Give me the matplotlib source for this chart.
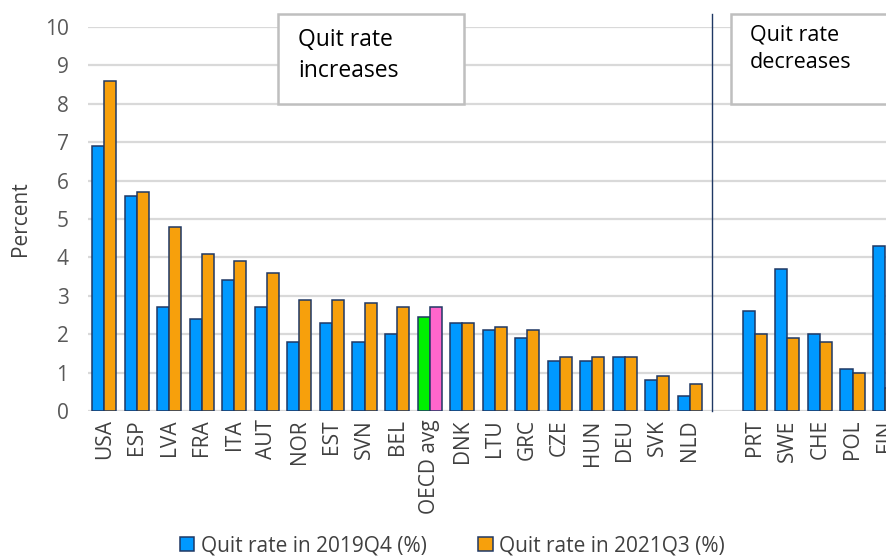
import matplotlib
matplotlib.use("Agg")
import matplotlib.pyplot as plt
from matplotlib.patches import Rectangle
import numpy as np

plt.rcParams['font.family'] = ['Open Sans', 'DejaVu Sans']

countries = ["USA", "ESP", "LVA", "FRA", "ITA", "AUT", "NOR", "EST", "SVN", "BEL",
             "OECD avg", "DNK", "LTU", "GRC", "CZE", "HUN", "DEU", "SVK", "NLD",
             "PRT", "SWE", "CHE", "POL", "FIN"]
q2019 = [6.9, 5.6, 2.7, 2.4, 3.4, 2.7, 1.8, 2.3, 1.8, 2.0,
         2.45, 2.3, 2.1, 1.9, 1.3, 1.3, 1.4, 0.8, 0.4,
         2.6, 3.7, 2.0, 1.1, 4.3]
q2021 = [8.6, 5.7, 4.8, 4.1, 3.9, 3.6, 2.9, 2.9, 2.8, 2.7,
         2.7, 2.3, 2.2, 2.1, 1.4, 1.4, 1.4, 0.9, 0.7,
         2.0, 1.9, 1.8, 1.0, 0.6]
n_increase = 19  # first group: quit rate increases
yticks = list(range(0, 11))

blue = "#0099FF"
orange = "#F7A00C"
green = "#00F000"
pink = "#FF66CC"
edge = "#1F3864"

fig = plt.figure(figsize=(8.87, 5.58), dpi=100)
ax = fig.add_axes([88/887, 147/558, 1 - 88/887, 384/558])

idx = np.arange(len(countries))
pos = idx + (idx >= n_increase)  # one empty slot between groups
w = 0.37
c1 = [green if c == "OECD avg" else blue for c in countries]
c2 = [pink if c == "OECD avg" else orange for c in countries]
ax.bar(pos - w, q2019, width=w, align='edge', color=c1, edgecolor=edge,
       linewidth=1.1, zorder=3, label="Quit rate in 2019Q4 (%)")
ax.bar(pos, q2021, width=w, align='edge', color=c2, edgecolor=edge,
       linewidth=1.1, zorder=3, label="Quit rate in 2021Q3 (%)")

ax.set_xlim(-0.5, pos[-1] + 0.06)
ax.set_ylim(0, 10)
ax.set_yticks(yticks)
ax.set_xticks(pos)
ax.set_xticklabels(countries, rotation=90, fontsize=15, color="#404040")
ax.tick_params(axis='y', labelsize=15, labelcolor="#595959", length=0, pad=14)
ax.tick_params(axis='x', length=0, pad=6)
ax.grid(axis='y', color="#D9D9D9", linewidth=1.6, zorder=0)
for s in ax.spines.values():
    s.set_visible(False)
ax.set_ylabel("Percent", fontsize=15, color="#404040", labelpad=10)

# divider line
xdiv = n_increase - 1 + 0.68
ax.plot([xdiv, xdiv], [0, 10.35], color=edge, linewidth=1.0, clip_on=False, zorder=4)

# annotation boxes (axes-data coordinates)
def box(x0, x1, y0, y1, text, tx, ty, fs):
    r = Rectangle((x0, y0), x1 - x0, y1 - y0, facecolor="white", edgecolor="#BFBFBF",
                  linewidth=1.8, clip_on=False, zorder=5)
    ax.add_patch(r)
    ax.text(tx, ty, text, fontsize=fs, color="black", va='top', ha='left',
            linespacing=1.4, zorder=6, clip_on=False)

box(5.34, 11.06, 8.0, 10.33, "Quit rate\nincreases", 5.95, 9.97, 16.5)
box(19.25, 24.5, 8.0, 10.33, "Quit rate\ndecreases", 19.85, 10.07, 15.5)

fig.legend(loc='center', bbox_to_anchor=(0.51, 0.022), ncol=2, frameon=False,
           fontsize=15, handlelength=0.7, handleheight=0.7, handletextpad=0.3,
           columnspacing=2.5, labelcolor="#404040")

fig.savefig("out.png", dpi=100)
